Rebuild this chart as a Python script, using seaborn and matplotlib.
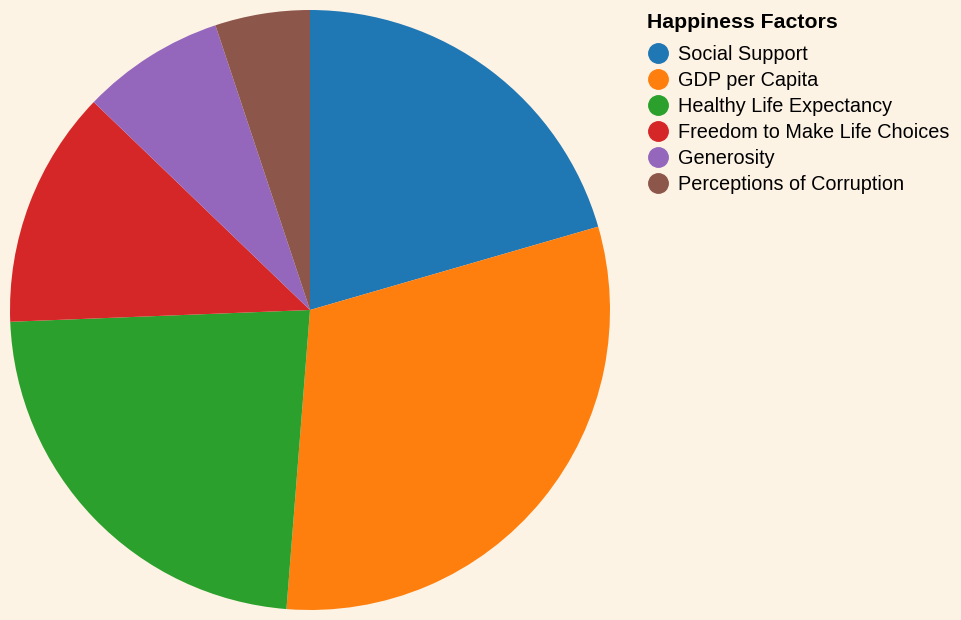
import matplotlib
matplotlib.use('Agg')
import matplotlib.pyplot as plt
import seaborn as sns
from matplotlib.lines import Line2D

# Data (share of happiness score, %)
factors = ['Social Support', 'GDP per Capita', 'Healthy Life Expectancy',
           'Freedom to Make Life Choices', 'Generosity', 'Perceptions of Corruption']
values = [20.5, 30.7, 23.1, 12.8, 7.7, 5.1]

sns.set_theme(style='white')
plt.rcParams['font.family'] = ['Liberation Sans', 'DejaVu Sans']

bg = '#fdf3e5'
colors = sns.color_palette('tab10', len(factors))

W, H = 962, 620
fig = plt.figure(figsize=(W / 100, H / 100), dpi=100, facecolor=bg)

# Pie: center (310, 310) px, radius 300 px
ax = fig.add_axes([10 / W, 10 / H, 600 / W, 600 / H])
ax.set_facecolor(bg)
ax.pie(values, colors=colors, startangle=90, counterclock=False, radius=1,
       wedgeprops=dict(linewidth=0))
ax.set_xlim(-1, 1)
ax.set_ylim(-1, 1)
ax.set_aspect('equal')
ax.axis('off')

# Legend drawn by hand
fig.text(647 / W, 1 - 22.5 / H, 'Happiness Factors', fontsize=15.3, fontweight='bold',
         ha='left', va='center', color='black')
for i, (name, c) in enumerate(zip(factors, colors)):
    y = 1 - (53 + 26 * i) / H
    fig.add_artist(Line2D([658 / W], [y], marker='o', markersize=14, color=c,
                          linestyle='none', transform=fig.transFigure))
    fig.text(678 / W, y - 1.5 / H, name, fontsize=14.3, ha='left', va='center', color='black')

plt.savefig('out.png', dpi=100, facecolor=bg)
